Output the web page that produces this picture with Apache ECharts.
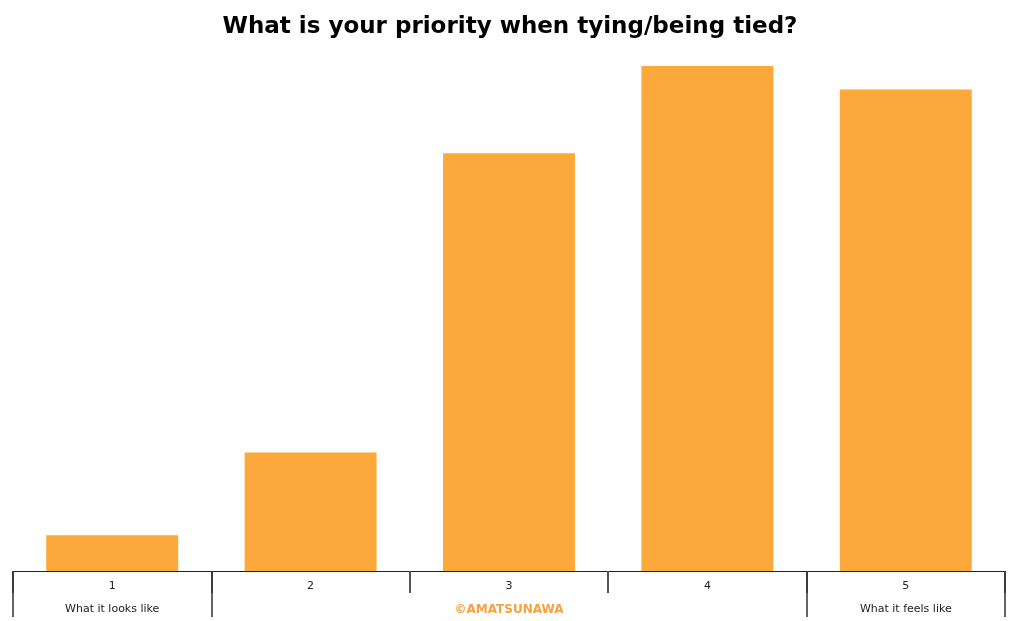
<!DOCTYPE html>
<html><head><meta charset="utf-8">
<script src="https://cdn.jsdelivr.net/npm/echarts@6/dist/echarts.min.js"></script>
<style>html,body{margin:0;padding:0;background:#fff}#c{width:1020px;height:621px}</style>
</head><body><div id="c"></div>
<script>
const categories = ['1', '2', '3', '4', '5'];
const scaleLabels = ['What it looks like', '', '©AMATSUNAWA', '', 'What it feels like'];
const values = [2.3, 7.6, 26.8, 32.4, 30.9];
const yMax = 32.4;

const chart = echarts.init(document.getElementById('c'));
chart.setOption({
  animation: false,
  title: {
    text: 'What is your priority when tying/being tied?',
    left: 'center', top: 11,
    textStyle: { fontFamily: 'DejaVu Sans', fontWeight: 'bold', fontSize: 23, color: '#000' }
  },
  grid: { left: 13, right: 15, top: 66, bottom: 50 },
  xAxis: [{
    type: 'category', data: categories, position: 'bottom',
    axisLine: { lineStyle: { color: '#222', width: 1 } },
    axisTick: { show: true, interval: 0, length: 22, lineStyle: { color: '#555', width: 2 } },
    axisLabel: { interval: 0, margin: 10, fontFamily: 'DejaVu Sans', fontSize: 11, color: '#222' }
  }, {
    type: 'category', data: scaleLabels, position: 'bottom',
    axisLine: { show: false },
    axisTick: { show: true, length: 46, lineStyle: { color: '#333', width: 1.5 },
      interval: function (i) { return i === 0 || i === 1 || i === 4; } },
    axisLabel: { interval: 0, margin: 33, fontFamily: 'DejaVu Sans', fontSize: 11, color: '#222',
      formatter: function (v) { return v.charAt(0) === '©' ? '{o|' + v + '}' : v; },
      rich: { o: { color: '#F7A23F', fontWeight: 'bold', fontFamily: 'DejaVu Sans', fontSize: 12 } } }
  }],
  yAxis: { type: 'value', min: 0, max: yMax, show: false, splitLine: { show: false } },
  series: [{
    type: 'bar', data: values, barWidth: '66.5%', xAxisIndex: 0,
    itemStyle: { color: '#FCA83B' }
  }]
});
</script></body></html>
